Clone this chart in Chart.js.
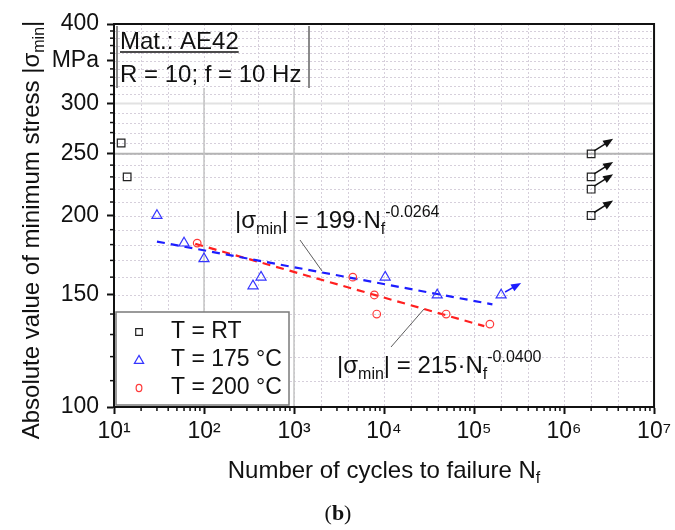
<!DOCTYPE html>
<html>
<head>
<meta charset="utf-8">
<script src="https://cdn.jsdelivr.net/npm/chart.js@4.4.1/dist/chart.umd.min.js"></script>
<style>
  html, body { margin: 0; padding: 0; background: #fff; }
</style>
</head>
<body>
<canvas id="sn-chart" width="675" height="530"></canvas>
<script>
// T = RT
const rtCycles = [12, 14, 2e6, 2e6, 2e6, 2e6];
const rtStress = [260, 230, 250, 230, 220, 200];
const rtRunout = [false, false, true, true, true, true];
// T = 175 °C
const t175Cycles = [30, 60, 100, 350, 430, 10300, 39000, 2e5];
const t175Stress = [200, 181, 171, 155, 160, 160, 150, 150];
const t175Runout = [false, false, false, false, false, false, false, true];
// T = 200 °C
const t200Cycles = [84, 4500, 7800, 8300, 49000, 150000];
const t200Stress = [181, 160, 150, 140, 140, 135];
// fitted lines (end points)
const fit175Cycles = [30, 160000];
const fit175Stress = [182, 145];
const fit200Cycles = [80, 130000];
const fit200Stress = [180.5, 134];

const xTicks = [1e1, 1e2, 1e3, 1e4, 1e5, 1e6, 1e7];
const xTickLabels = ['10¹', '10²', '10³', '10⁴', '10⁵', '10⁶', '10⁷'];
const yTicks = [100, 150, 200, 250, 300, 350, 400];
const yTickLabels = ['100', '150', '200', '250', '300', 'MPa', '400'];

const FONT = "'Liberation Sans', Arial, sans-serif";
const BLUE = '#3535ff';
const RED = '#ff3a3a';
Chart.defaults.font.family = FONT;
Chart.defaults.color = '#111';

function pts(xs, ys) {
  return xs.map((x, i) => ({ x: x, y: ys[i] }));
}

function seg(ctx, x0, y0, x1, y1) {
  ctx.beginPath();
  ctx.moveTo(x0, y0);
  ctx.lineTo(x1, y1);
  ctx.stroke();
}

// draws text made of pieces [text, size, dy]
function richText(ctx, parts, x, y, align) {
  let w = 0;
  parts.forEach(p => { ctx.font = p[1] + 'px ' + FONT; w += ctx.measureText(p[0]).width; });
  let cx = align === 'center' ? x - w / 2 : x;
  ctx.textAlign = 'left';
  ctx.textBaseline = 'alphabetic';
  parts.forEach(p => {
    ctx.font = p[1] + 'px ' + FONT;
    ctx.fillText(p[0], cx, y + (p[2] || 0));
    cx += ctx.measureText(p[0]).width;
  });
}

function arrow(ctx, x0, y0, x1, y1, color) {
  const ang = Math.atan2(y1 - y0, x1 - x0);
  ctx.strokeStyle = color;
  ctx.fillStyle = color;
  ctx.lineWidth = 1.5;
  seg(ctx, x0, y0, x1 - 6 * Math.cos(ang), y1 - 6 * Math.sin(ang));
  ctx.beginPath();
  ctx.moveTo(x1, y1);
  ctx.lineTo(x1 - 10 * Math.cos(ang) + 4 * Math.sin(ang), y1 - 10 * Math.sin(ang) - 4 * Math.cos(ang));
  ctx.lineTo(x1 - 10 * Math.cos(ang) - 4 * Math.sin(ang), y1 - 10 * Math.sin(ang) + 4 * Math.cos(ang));
  ctx.closePath();
  ctx.fill();
}

function marker(ctx, style, x, y, r, color) {
  ctx.strokeStyle = color;
  ctx.lineWidth = 1.2;
  ctx.beginPath();
  if (style === 'rect') {
    ctx.rect(x - r, y - r, 2 * r, 2 * r);
  } else if (style === 'triangle') {
    ctx.moveTo(x, y - r * 1.1);
    ctx.lineTo(x + r * 1.1, y + r * 0.8);
    ctx.lineTo(x - r * 1.1, y + r * 0.8);
    ctx.closePath();
  } else {
    ctx.ellipse(x, y, r * 0.8, r, 0, 0, Math.PI * 2);
  }
  ctx.stroke();
}

const overlay = {
  id: 'overlay',
  beforeDatasetsDraw(chart) {
    const { ctx, chartArea: a, scales: { x, y } } = chart;
    ctx.save();
    // faint dotted grid
    ctx.strokeStyle = '#d6cfdb';
    ctx.lineWidth = 1;
    ctx.setLineDash([2, 2]);
    for (let v = 110; v < 400; v += 10) {
      const py = Math.round(y.getPixelForValue(v)) + 0.5;
      seg(ctx, a.left, py, a.right, py);
    }
    for (let d = 1; d < 7; d++) {
      [1, 2, 4].forEach(m => {
        const v = m * Math.pow(10, d);
        if (v <= 10) return;
        const px = Math.round(x.getPixelForValue(v)) + 0.5;
        seg(ctx, px, a.top, px, a.bottom);
      });
    }
    ctx.setLineDash([]);
    // solid reference lines
    ctx.strokeStyle = '#e2e2e2';
    ctx.lineWidth = 2;
    seg(ctx, a.left, y.getPixelForValue(300), a.right, y.getPixelForValue(300));
    ctx.strokeStyle = '#b4b4b4';
    seg(ctx, a.left, y.getPixelForValue(250), a.right, y.getPixelForValue(250));
    ctx.strokeStyle = '#c4c4c4';
    ctx.lineWidth = 1.5;
    [100, 1000].forEach(v => {
      const px = x.getPixelForValue(v);
      seg(ctx, px, a.top + 64, px, a.bottom);
    });
    // material box
    ctx.strokeStyle = '#8a8a8a';
    ctx.lineWidth = 2;
    seg(ctx, a.left + 3, a.top + 2, a.left + 3, a.top + 64);
    seg(ctx, a.left + 195, a.top + 2, a.left + 195, a.top + 64);
    ctx.fillStyle = '#111';
    ctx.font = '24px ' + FONT;
    ctx.textAlign = 'left';
    ctx.textBaseline = 'alphabetic';
    ctx.fillText('Mat.: AE42', a.left + 6, a.top + 25);
    const w = ctx.measureText('Mat.: AE42').width;
    ctx.strokeStyle = '#111';
    ctx.lineWidth = 1.5;
    seg(ctx, a.left + 6, a.top + 28, a.left + 6 + w, a.top + 28);
    ctx.fillText('R = 10; f = 10 Hz', a.left + 6, a.top + 58);
    ctx.restore();
  },
  afterDatasetsDraw(chart) {
    const { ctx, chartArea: a, scales: { x, y } } = chart;
    ctx.save();
    // run-out arrows
    rtCycles.forEach((n, i) => {
      if (!rtRunout[i]) return;
      const px = x.getPixelForValue(n), py = y.getPixelForValue(rtStress[i]);
      arrow(ctx, px + 3, py - 3, px + 22, py - 15, '#111');
    });
    t175Cycles.forEach((n, i) => {
      if (!t175Runout[i]) return;
      const px = x.getPixelForValue(n), py = y.getPixelForValue(t175Stress[i]);
      arrow(ctx, px + 4, py - 3, px + 20, py - 12, '#1d1dff');
    });
    // fit equations with leader lines
    ctx.strokeStyle = '#333';
    ctx.lineWidth = 0.8;
    seg(ctx, a.left + 186, a.top + 216, a.left + 208, a.top + 247);
    seg(ctx, a.left + 277, a.top + 323, a.left + 310, a.top + 285);
    ctx.fillStyle = '#111';
    richText(ctx, [['|σ', 24], ['min', 16, 6], ['| = 199·N', 24], ['f', 16, 6], ['-0.0264', 16, -11]], a.left + 121, a.top + 204);
    richText(ctx, [['|σ', 24], ['min', 16, 6], ['| = 215·N', 24], ['f', 16, 6], ['-0.0400', 16, -11]], a.left + 223, a.top + 349);
    // legend
    const lt = a.bottom - 95, ll = a.left + 2;
    ctx.fillStyle = '#fff';
    ctx.fillRect(ll, lt, 173, 93);
    ctx.strokeStyle = '#7a7a7a';
    ctx.lineWidth = 1.5;
    ctx.strokeRect(ll, lt, 173, 93);
    const items = [['rect', '#222', 'T = RT', 3.3], ['triangle', BLUE, 'T = 175 °C', 4.2], ['circle', RED, 'T = 200 °C', 3.6]];
    items.forEach((it, k) => {
      const cy = lt + 20 + k * 28;
      marker(ctx, it[0], ll + 23, cy, it[3], it[1]);
      ctx.fillStyle = '#111';
      ctx.font = '23px ' + FONT;
      ctx.textAlign = 'left';
      ctx.textBaseline = 'middle';
      ctx.fillText(it[2], ll + 55, cy);
    });
    // frame
    ctx.strokeStyle = '#111';
    ctx.lineWidth = 2;
    ctx.strokeRect(a.left, a.top, a.right - a.left, a.bottom - a.top);
    ctx.restore();
  },
  afterDraw(chart) {
    const { ctx, chartArea: a, scales: { x, y } } = chart;
    ctx.save();
    // minor ticks
    ctx.strokeStyle = '#111';
    ctx.lineWidth = 1.5;
    for (let v = 110; v < 400; v += 10) {
      if (v % 50 === 0) continue;
      const py = y.getPixelForValue(v);
      seg(ctx, a.left - 4, py, a.left, py);
    }
    for (let d = 1; d < 7; d++) {
      for (let m = 2; m < 10; m++) {
        const px = x.getPixelForValue(m * Math.pow(10, d));
        seg(ctx, px, a.bottom, px, a.bottom + 4);
      }
    }
    // axis titles
    ctx.fillStyle = '#111';
    richText(ctx, [['Number of cycles to failure N', 24], ['f', 16, 5]], (a.left + a.right) / 2, 478, 'center');
    ctx.translate(39, 230);
    ctx.rotate(-Math.PI / 2);
    richText(ctx, [['Absolute value of minimum stress |σ', 24], ['min', 16, 5], ['|', 24]], 0, 0, 'center');
    ctx.restore();
    // caption
    ctx.save();
    ctx.fillStyle = '#111';
    ctx.textBaseline = 'alphabetic';
    ctx.textAlign = 'left';
    ctx.font = "22px 'Liberation Serif', 'Times New Roman', serif";
    const wp = ctx.measureText('(').width;
    ctx.font = "bold 22px 'Liberation Serif', 'Times New Roman', serif";
    const wb = ctx.measureText('b').width;
    const cx0 = 338 - (2 * wp + wb) / 2;
    ctx.font = "22px 'Liberation Serif', 'Times New Roman', serif";
    ctx.fillText('(', cx0, 520);
    ctx.fillText(')', cx0 + wp + wb, 520);
    ctx.font = "bold 22px 'Liberation Serif', 'Times New Roman', serif";
    ctx.fillText('b', cx0 + wp, 520);
    ctx.restore();
  }
};

const ctx = document.getElementById('sn-chart');
new Chart(ctx, {
  type: 'scatter',
  data: {
    datasets: [
      {
        label: 'T = RT',
        data: pts(rtCycles, rtStress),
        pointStyle: 'rect',
        pointRadius: 5.4,
        borderColor: '#222',
        backgroundColor: 'rgba(0,0,0,0)',
        borderWidth: 1.2
      },
      {
        label: 'T = 175 °C',
        data: pts(t175Cycles, t175Stress),
        pointStyle: 'triangle',
        pointRadius: 5.8,
        borderColor: BLUE,
        backgroundColor: 'rgba(0,0,0,0)',
        borderWidth: 1.2
      },
      {
        label: 'T = 200 °C',
        data: pts(t200Cycles, t200Stress),
        pointStyle: 'circle',
        pointRadius: 3.8,
        borderColor: RED,
        backgroundColor: 'rgba(0,0,0,0)',
        borderWidth: 1.2
      },
      {
        type: 'line',
        label: 'fit 175',
        data: pts(fit175Cycles, fit175Stress),
        borderColor: '#1d1dff',
        borderWidth: 2.2,
        borderDash: [8, 6],
        pointRadius: 0,
        fill: false
      },
      {
        type: 'line',
        label: 'fit 200',
        data: pts(fit200Cycles, fit200Stress),
        borderColor: '#ff1f1f',
        borderWidth: 2.2,
        borderDash: [8, 6],
        pointRadius: 0,
        fill: false
      }
    ]
  },
  options: {
    responsive: false,
    animation: false,
    devicePixelRatio: 1,
    layout: { padding: { left: 0, right: 17, top: 24, bottom: 0 } },
    plugins: {
      legend: { display: false },
      tooltip: { enabled: false }
    },
    scales: {
      x: {
        type: 'logarithmic',
        min: 10,
        max: 1e7,
        afterBuildTicks: s => { s.ticks = xTicks.map(v => ({ value: v })); },
        afterFit: s => { s.height = 123; },
        ticks: {
          callback: (v, i) => xTickLabels[i],
          font: { size: 23 },
          color: '#111',
          padding: 4,
          maxRotation: 0,
          autoSkip: false
        },
        grid: { drawOnChartArea: false, tickLength: 7, tickWidth: 2, tickColor: '#111' },
        border: { color: '#111', width: 2 }
      },
      y: {
        type: 'logarithmic',
        min: 100,
        max: 400,
        afterBuildTicks: s => { s.ticks = yTicks.map(v => ({ value: v })); },
        afterFit: s => { s.width = 114; },
        ticks: {
          callback: (v, i) => yTickLabels[i],
          font: { size: 23 },
          color: '#111',
          padding: 8,
          autoSkip: false
        },
        grid: { drawOnChartArea: false, tickLength: 7, tickWidth: 2, tickColor: '#111' },
        border: { color: '#111', width: 2 }
      }
    }
  },
  plugins: [overlay]
});
</script>
</body>
</html>
